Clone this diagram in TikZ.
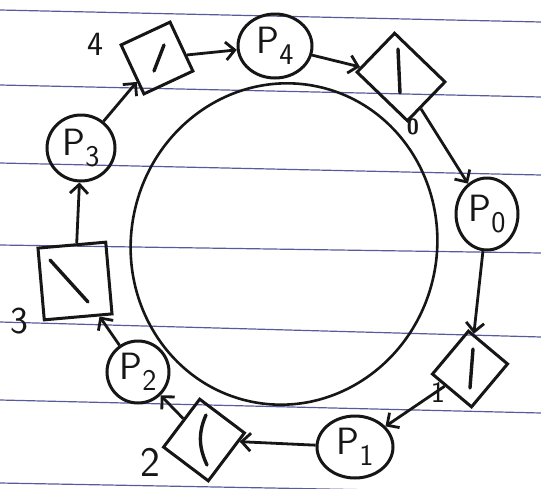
\documentclass[tikz,border=0pt]{standalone}
\usetikzlibrary{arrows.meta,shapes.geometric,calc}
\definecolor{ink}{RGB}{22,22,22}
\definecolor{rule}{RGB}{60,62,140}
\newcommand\philname[1]{P\raisebox{-0.3em}{\fontsize{30}{30}\selectfont #1}}
\begin{document}
\begin{tikzpicture}[x=1pt,y=-1pt,
  paper/.style={rule, line width=1.2pt, opacity=0.85},
  phil/.style={ellipse, draw=ink, line width=3pt, inner sep=0pt, font=\sffamily\fontsize{38}{38}\selectfont, text=ink},
  fork/.style={rectangle, draw=ink, line width=3pt, inner sep=0pt},
  tine/.style={draw=ink, line width=3.4pt, line cap=round},
  conn/.style={draw=ink, line width=2.8pt, -{Straight Barb[length=9pt,width=18pt,line width=2.8pt]}},
  lbl/.style={font=\sffamily\fontsize{34}{34}\selectfont, text=ink, inner sep=0pt}]
\useasboundingbox (0,0) rectangle (541,488);
\fill[white] (0,0) rectangle (541,488);
% ruled paper
\draw[paper] (0,10) -- (541,22);
\draw[paper] (0,85) -- (541,97);
\draw[paper] (0,163) -- (541,175);
\draw[paper] (0,245) -- (541,253);
\draw[paper] (0,322) -- (541,337);
\draw[paper] (0,400) -- (541,413);
\draw[paper] (0,483) -- (541,493);
% table
\draw[ink, line width=2.6pt, rotate around={-12:(284,244)}] (284,244) ellipse [x radius=153, y radius=161];
% philosophers
\node[phil, minimum width=74pt, minimum height=64pt] (P4) at (275,46) {\philname{4}};
\node[phil, minimum width=62pt, minimum height=72pt] (P0) at (487,214) {\philname{0}};
\node[phil, minimum width=76pt, minimum height=62pt] (P1) at (355,447) {\philname{1}};
\node[phil, minimum width=62pt, minimum height=62pt] (P2) at (138,372) {\philname{2}};
\node[phil, minimum width=68pt, minimum height=66pt] (P3) at (81,148) {\philname{3}};
% forks
\node[fork, minimum width=54pt, minimum height=54pt, rotate=25] (f4) at (157,58) {};
\node[fork, minimum width=70pt, minimum height=54pt, rotate=-44] (f0) at (401,77) {};
\node[fork, minimum width=51pt, minimum height=56pt, rotate=-40] (f1) at (470,369) {};
\node[fork, minimum width=56pt, minimum height=60pt, rotate=-37] (f2) at (204,440) {};
\node[fork, minimum width=68pt, minimum height=72pt, rotate=5] (f3) at (75,281) {};
\draw[tine] (f4.center) ++(-3,13) -- ++(10,-26);
\draw[tine] (f0.center) ++(-3,-28) -- ++(2,44);
\draw[tine] (f1.center) ++(3,-20) -- ++(-3,39);
\draw[tine] (f2.center) ++(2,-25) .. controls ++(-9,20) and ++(-7,-15) .. ++(1,50);
\draw[tine] (f3.center) ++(-25,-21) -- ++(38,42);
% labels
\node[lbl] (l4) at (95,44) {4};
\node[lbl, font=\sffamily\bfseries\fontsize{22}{22}\selectfont] (l0) at (413,127) {0};
\node[lbl, font=\sffamily\fontsize{38}{38}\selectfont] (l3) at (19,321) {3};
\node[lbl, font=\sffamily\fontsize{30}{30}\selectfont] (l1) at (438,392) {1};
\node[lbl, font=\sffamily\fontsize{42}{42}\selectfont] (l2) at (150,462) {2};
% connectors (clockwise cycle)
\draw[conn] (f3) -- (P3);
\draw[conn] (P3) -- (f4);
\draw[conn] (f4) -- (P4);
\draw[conn] (P4) -- (f0);
\draw[conn] (f0) -- (P0);
\draw[conn] (P0) -- (f1);
\draw[conn] (f1) -- (P1);
\draw[conn] (P1) -- (f2);
\draw[conn] (f2) -- (P2);
\draw[conn] (P2) -- (f3);
\end{tikzpicture}
\end{document}
